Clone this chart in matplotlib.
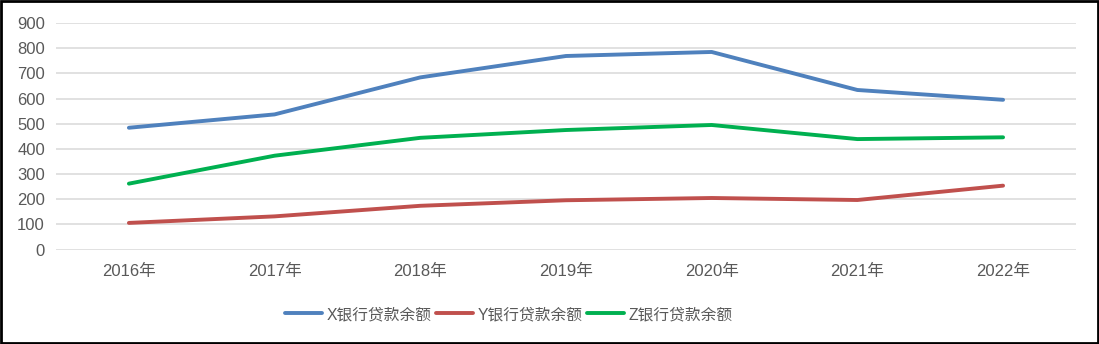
import matplotlib.pyplot as plt
from matplotlib.patches import Rectangle

plt.rcParams['font.family'] = ['Liberation Sans', 'Noto Sans CJK SC', 'DejaVu Sans']

years = ['2016年', '2017年', '2018年', '2019年', '2020年', '2021年', '2022年']
x_bank = [484, 537, 684, 769, 785, 634, 595]
y_bank = [106, 132, 174, 196, 205, 197, 254]
z_bank = [262, 373, 444, 475, 495, 439, 446]
labels = ['X银行贷款余额', 'Y银行贷款余额', 'Z银行贷款余额']
colors = ['#4F81BD', '#C0504D', '#00B050']

fig = plt.figure(figsize=(10.99, 3.44), dpi=100)
ax = fig.add_axes([0.051, 0.2744, 0.928, 0.6587])

pos = range(len(years))
for vals, lab, col in zip([x_bank, y_bank, z_bank], labels, colors):
    ax.plot(pos, vals, color=col, lw=2.8, label=lab, solid_capstyle='round', zorder=3)

ax.set_xlim(-0.5, len(years) - 0.5)
ax.set_ylim(0, 900)
ax.set_yticks(range(0, 1000, 100))
ax.set_xticks(list(pos))
ax.set_xticklabels(years)
ax.grid(axis='y', color='#D9D9D9', lw=1.1)
ax.set_axisbelow(True)
for s in ax.spines.values():
    s.set_visible(False)
ax.tick_params(axis='y', length=0, pad=8, labelsize=12, labelcolor='#595959')
ax.tick_params(axis='x', length=0, pad=10, labelsize=12, labelcolor='#595959')

leg = fig.legend(loc='center', bbox_to_anchor=(0.463, 0.086), ncol=3, frameon=False,
                 fontsize=11.3, handlelength=2.35, handletextpad=0.32, columnspacing=0.25)
for t in leg.get_texts():
    t.set_color('#595959')

fig.patches.append(Rectangle((0.001, 0.002), 0.998, 0.996, transform=fig.transFigure,
                             fill=False, ec='black', lw=2))

fig.savefig('out.png', dpi=100)
